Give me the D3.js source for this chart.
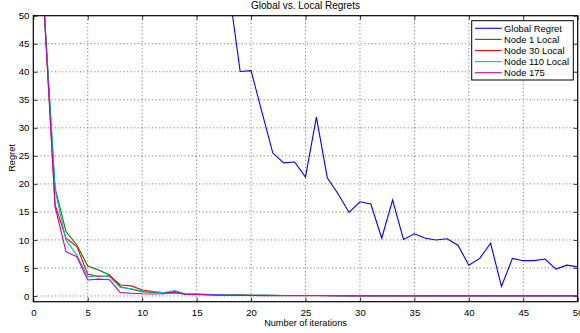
<!DOCTYPE html>
<html>
<head>
<meta charset="utf-8">
<script src="https://cdn.jsdelivr.net/npm/d3@7"></script>
<style>
  body { margin: 0; background: #fff; }
  text { font-family: "Liberation Sans", Arial, sans-serif; fill: #000; }
</style>
</head>
<body>
<svg id="chart" width="580" height="333"></svg>
<script>
// iterations on the x axis
const iterations = [1,2,3,4,5,6,7,8,9,10,11,12,13,14,15,16,17,18,19,20,21,22,23,24,25,
  26,27,28,29,30,31,32,33,34,35,36,37,38,39,40,41,42,43,44,45,46,47,48,49,50];

// global regret is off the top of the chart until ~iteration 18
const globalRegret = [null,null,null,null,null,null,null,null,null,null,null,null,null,null,null,null,null,
  54.3, 40.05, 40.2, 32.8, 25.5, 23.75, 23.9, 21.2, 31.9, 21.1, 18.2, 14.9, 16.8, 16.4, 10.3, 17.1,
  10.1, 11.1, 10.3, 10.0, 10.2, 9.05, 5.5, 6.7, 9.4, 1.7, 6.7, 6.3, 6.3, 6.6, 4.8, 5.5, 5.2];

const node1Local = [51, 19.3, 11.5, 9.1, 5.36, 4.64, 3.75, 1.66, 1.2, 0.77, 0.65, 0.5, 0.8, 0.3, 0.3,
  0.26, 0.22, 0.2, 0.15, 0.12, 0.1, 0.1, 0.09, 0.09, 0.08, 0.08, 0.08, 0.07, 0.07, 0.07, 0.07, 0.06,
  0.06, 0.06, 0.06, 0.06, 0.05, 0.05, 0.05, 0.05, 0.05, 0.05, 0.05, 0.05, 0.05, 0.05, 0.05, 0.05, 0.05, 0.05];
const node30Local = [51, 16.3, 10.3, 8.8, 3.9, 3.45, 3.6, 1.96, 1.8, 1.07, 0.77, 0.55, 0.6, 0.3, 0.3,
  0.25, 0.2, 0.18, 0.15, 0.1, 0.1, 0.09, 0.09, 0.08, 0.08, 0.08, 0.07, 0.07, 0.07, 0.06, 0.06, 0.06,
  0.06, 0.06, 0.05, 0.05, 0.05, 0.05, 0.05, 0.05, 0.05, 0.05, 0.05, 0.05, 0.05, 0.05, 0.05, 0.05, 0.05, 0.05];
const node110Local = [51, 18.9, 10.0, 7.3, 3.45, 3.6, 3.4, 1.5, 1.3, 0.9, 0.7, 0.6, 0.95, 0.35, 0.3,
  0.28, 0.25, 0.2, 0.18, 0.12, 0.1, 0.1, 0.09, 0.09, 0.08, 0.08, 0.08, 0.07, 0.07, 0.07, 0.06, 0.06,
  0.06, 0.06, 0.06, 0.05, 0.05, 0.05, 0.05, 0.05, 0.05, 0.05, 0.05, 0.05, 0.05, 0.05, 0.05, 0.05, 0.05, 0.05];
const node175 = [51, 15.95, 7.9, 7.0, 2.86, 3.0, 2.9, 0.6, 0.5, 0.4, 0.36, 0.4, 0.65, 0.3, 0.28,
  0.2, 0.15, 0.12, 0.1, 0.08, 0.06, 0.05, 0.04, 0.04, 0.03, 0.03, 0.03, 0.03, 0.02, 0.02, 0.02, 0.02,
  0.02, 0.02, 0.02, 0.02, 0.02, 0.02, 0.02, 0.02, 0.02, 0.02, 0.02, 0.02, 0.02, 0.02, 0.02, 0.02, 0.02, 0.02];

const seriesNames = ["Global Regret", "Node 1 Local", "Node 30 Local", "Node 110 Local", "Node 175"];
const seriesColors = ["#0000ff", "#008000", "#ff0000", "#00bfbf", "#bf00bf"];
const xTicks = [0, 5, 10, 15, 20, 25, 30, 35, 40, 45, 50];
const yTicks = [0, 5, 10, 15, 20, 25, 30, 35, 40, 45, 50];

const series = [globalRegret, node1Local, node30Local, node110Local, node175];

const svg = d3.select("#chart");
const plotLeft = 33.3, plotRight = 577.7, plotTop = 15.7, plotBottom = 301.7;

const x = d3.scaleLinear().domain([0, 50]).range([plotLeft, plotRight]);
const y = d3.scaleLinear().domain([-1.02, 50]).range([plotBottom, plotTop]);

// clip for plot area
svg.append("clipPath").attr("id", "plotclip")
  .append("rect").attr("x", plotLeft).attr("y", plotTop)
  .attr("width", plotRight - plotLeft).attr("height", plotBottom - plotTop);

// grid lines
const grid = svg.append("g").attr("stroke", "#444").attr("stroke-width", 0.8).attr("stroke-dasharray", "1,2.6");
grid.selectAll(".vg").data(xTicks.slice(1, -1)).join("line")
  .attr("x1", d => x(d)).attr("x2", d => x(d)).attr("y1", plotTop).attr("y2", plotBottom);
grid.selectAll(".hg").data(yTicks.slice(0, -1)).join("line")
  .attr("x1", plotLeft).attr("x2", plotRight).attr("y1", d => y(d)).attr("y2", d => y(d));

// axes with inward ticks (labels on bottom/left)
const tickLen = 4;
const xAxisB = svg.append("g").attr("transform", `translate(0,${plotBottom})`)
  .call(d3.axisBottom(x).tickValues(xTicks).tickSize(-tickLen).tickPadding(7).tickFormat(d3.format("d")));
const xAxisT = svg.append("g").attr("transform", `translate(0,${plotTop})`)
  .call(d3.axisTop(x).tickValues(xTicks).tickSize(-tickLen).tickFormat(""));
const yAxisL = svg.append("g").attr("transform", `translate(${plotLeft},0)`)
  .call(d3.axisLeft(y).tickValues(yTicks).tickSize(-tickLen).tickPadding(4).tickFormat(d3.format("d")));
const yAxisR = svg.append("g").attr("transform", `translate(${plotRight},0)`)
  .call(d3.axisRight(y).tickValues(yTicks).tickSize(-tickLen).tickFormat(""));
[xAxisB, xAxisT, yAxisL, yAxisR].forEach(a => {
  a.select(".domain").remove();
  a.selectAll("line").attr("stroke", "#000").attr("stroke-width", 0.8);
  a.selectAll("text").attr("font-size", 9.6).attr("font-family", "Liberation Sans, Arial, sans-serif").attr("fill", "#222");
});

// series lines
const line = d3.line()
  .defined(d => d.v !== null)
  .x(d => x(d.i))
  .y(d => y(d.v));
const plot = svg.append("g").attr("clip-path", "url(#plotclip)");
series.forEach((s, k) => {
  plot.append("path")
    .datum(iterations.map((it, j) => ({ i: it, v: s[j] })))
    .attr("fill", "none")
    .attr("stroke", seriesColors[k])
    .attr("stroke-width", 1.1)
    .attr("d", line);
});

// box
svg.append("rect").attr("x", plotLeft).attr("y", plotTop)
  .attr("width", plotRight - plotLeft).attr("height", plotBottom - plotTop)
  .attr("fill", "none").attr("stroke", "#000").attr("stroke-width", 1.2);

// title and labels
svg.append("text").attr("x", (plotLeft + plotRight) / 2).attr("y", 9).attr("text-anchor", "middle")
  .attr("font-size", 10).text("Global vs. Local Regrets");
svg.append("text").attr("x", (plotLeft + plotRight) / 2).attr("y", 325.5).attr("text-anchor", "middle")
  .attr("font-size", 9.2).text("Number of iterations");
svg.append("text").attr("transform", "translate(14.5,158) rotate(-90)").attr("text-anchor", "middle")
  .attr("font-size", 9.2).text("Regret");

// legend
const lg = svg.append("g");
lg.append("rect").attr("x", 471.7).attr("y", 20.7).attr("width", 101.6).attr("height", 59.3)
  .attr("fill", "#fff").attr("stroke", "#000").attr("stroke-width", 1);
seriesNames.forEach((n, k) => {
  const ly = 28.3 + k * 11.1;
  lg.append("line").attr("x1", 475).attr("x2", 501.7).attr("y1", ly).attr("y2", ly)
    .attr("stroke", seriesColors[k]).attr("stroke-width", 1.1);
  lg.append("text").attr("x", 504).attr("y", ly + 3.4).attr("font-size", 9.4).text(n);
});
</script>
</body>
</html>
